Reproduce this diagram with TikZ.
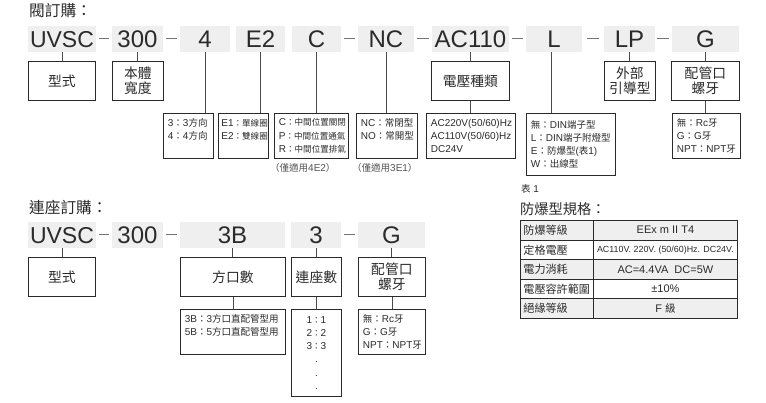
\documentclass[tikz,border=0pt]{standalone}
\usepackage{fontspec}
\setmainfont{Liberation Sans}
\newfontfamily\cjk[Scale=0.95]{Noto Sans CJK TC}
\newcommand{\zh}[1]{{\cjk #1}}
\newcommand{\zs}[1]{{\cjk\fontsize{9}{13.3}\selectfont #1}}
\definecolor{codegray}{HTML}{EFEFEF}
\definecolor{inkdark}{HTML}{2A2A2A}
\tikzset{
  codebox/.style={fill=codegray,inner sep=0pt,minimum height=26pt,text height=18pt,text depth=0pt,text=inkdark,font=\fontsize{24}{28}\selectfont},
  labelbox/.style={draw=inkdark,line width=0.8pt,anchor=north west,inner sep=0pt,minimum height=39pt,align=center,text=inkdark,font=\fontsize{14.5}{14.5}\selectfont},
  detailbox/.style={draw=inkdark,line width=0.8pt,anchor=north west,inner xsep=4.5pt,inner ysep=0pt,minimum height=45pt,align=left,text=inkdark,font=\fontsize{10}{13.3}\selectfont},
  notetext/.style={anchor=west,inner sep=0pt,text=inkdark!80,font=\fontsize{10}{11}\selectfont},
  titletext/.style={anchor=west,inner sep=0pt,text=inkdark,font=\fontsize{16.5}{18}\selectfont},
  cellbox/.style={draw=inkdark,line width=0.8pt,anchor=north west,inner sep=0pt,minimum height=19.6pt,text=inkdark,font=\fontsize{11}{12}\selectfont},
  headcell/.style={cellbox,align=left,text width=67pt,inner xsep=3pt,minimum width=73pt,font=\fontsize{11.7}{12}\selectfont},
  valuecell/.style={cellbox,minimum width=144pt},
  hyphenline/.style={draw=black!55,line width=1pt},
  stemline/.style={draw=inkdark!85,line width=0.8pt}
}
\begin{document}
\begin{tikzpicture}[x=1pt,y=-1pt]
  \useasboundingbox (0,0) rectangle (766,403);
  % valve order code
  \node[titletext] (vTitle) at (29,11) {\zh{閥訂購：}};
  \node[codebox,minimum width=68pt,font=\fontsize{23}{28}\selectfont] (vUVSC) at (62,39) {UVSC};
  \node[codebox,minimum width=51pt] (v300) at (137.5,39) {300};
  \node[codebox,minimum width=50pt] (vPort) at (205,39) {4};
  \node[codebox,minimum width=49pt] (vCoil) at (260.5,39) {E2};
  \node[codebox,minimum width=49pt] (vMid) at (316.5,39) {C};
  \node[codebox,minimum width=56pt] (vNorm) at (386,39) {NC};
  \node[codebox,minimum width=77pt] (vVolt) at (470.5,39) {AC110};
  \node[codebox,minimum width=56pt] (vConn) at (554,39) {L};
  \node[codebox,minimum width=51pt] (vLead) at (629.5,39) {LP};
  \node[codebox,minimum width=67pt] (vPipe) at (705.5,39) {G};
  \draw[hyphenline] ([xshift=3pt]vUVSC.east) -- ([xshift=-3pt]v300.west);
  \draw[hyphenline] ([xshift=3pt]v300.east) -- ([xshift=-3pt]vPort.west);
  \draw[hyphenline] ([xshift=3pt]vMid.east) -- ([xshift=-3pt]vNorm.west);
  \draw[hyphenline] ([xshift=3pt]vNorm.east) -- ([xshift=-3pt]vVolt.west);
  \draw[hyphenline] ([xshift=3pt]vVolt.east) -- ([xshift=-3pt]vConn.west);
  \draw[hyphenline] ([xshift=5pt]vConn.east) -- ([xshift=-5pt]vLead.west);
  \draw[hyphenline] ([xshift=2pt]vLead.east) -- ([xshift=-3pt]vPipe.west);
  \node[labelbox,minimum width=67pt] (lType) at (28,61) {\zh{型式}};
  \node[labelbox,minimum width=51pt] (lWidth) at (112,61) {\zh{本體}\\\zh{寬度}};
  \node[labelbox,minimum width=78pt] (lVolt) at (431,61) {\zh{電壓種類}};
  \node[labelbox,minimum width=51pt] (lLead) at (604,61) {\zh{外部}\\\zh{引導型}};
  \node[labelbox,minimum width=68pt] (lPipe) at (671,61) {\zh{配管口}\\\zh{螺牙}};
  \node[detailbox,text width=41pt] (dPort) at (163,113) {3\zh{：}3\zh{方向}\\4\zh{：}4\zh{方向}\\~};
  \node[detailbox,text width=44pt,inner xsep=3pt] (dCoil) at (218,113) {E1\zs{：單線圈}\\E2\zs{：雙線圈}\\~};
  \node[detailbox,text width=65pt] (dMid) at (274,113) {C\zs{：中間位置關閉}\\P\zs{：中間位置通氣}\\R\zs{：中間位置排氣}};
  \node[detailbox,text width=52pt] (dNorm) at (356,113) {NC\zh{：常閉型}\\NO\zh{：常開型}\\~};
  \node[detailbox,text width=80pt] (dVolt) at (426,113) {AC220V(50/60)Hz\\AC110V(50/60)Hz\\DC24V};
  \node[detailbox,text width=80pt,minimum height=62pt] (dConn) at (526,113) {\zh{無：}DIN\zh{端子型}\\L\zh{：}DIN\zh{端子附燈型}\\E\zh{：防爆型}(\zh{表}1)\\W\zh{：出線型}};
  \node[detailbox,text width=59pt] (dPipe) at (672,113) {\zh{無：}Rc\zh{牙}\\G\zh{：}G\zh{牙}\\NPT\zh{：}NPT\zh{牙}};
  \node[notetext] (nMid) at (270,168) {\zh{（僅適用}4E2\zh{）}};
  \node[notetext] (nNorm) at (352,168) {\zh{（僅適用}3E1\zh{）}};
  \draw[stemline] (vUVSC.south) -- (vUVSC.south |- lType.north);
  \draw[stemline] (v300.south) -- (v300.south |- lWidth.north);
  \draw[stemline] (vPort.south) -- (vPort.south |- dPort.north);
  \draw[stemline] (vCoil.south) -- (vCoil.south |- dCoil.north);
  \draw[stemline] (vMid.south) -- (vMid.south |- dMid.north);
  \draw[stemline] (vNorm.south) -- (vNorm.south |- dNorm.north);
  \draw[stemline] (vVolt.south) -- (vVolt.south |- lVolt.north);
  \draw[stemline] (lVolt.south) -- (lVolt.south |- dVolt.north);
  \draw[stemline] ([xshift=-3pt]vConn.south) -- ([xshift=-3pt]vConn.south |- dConn.north);
  \draw[stemline] (vLead.south) -- (vLead.south |- lLead.north);
  \draw[stemline] (vPipe.south) -- (vPipe.south |- lPipe.north);
  \draw[stemline] (lPipe.south) -- (lPipe.south |- dPipe.north);
  % base order code
  \node[titletext] (bTitle) at (29,207) {\zh{連座訂購：}};
  \node[codebox,minimum width=68pt,font=\fontsize{23}{28}\selectfont] (bUVSC) at (62,235) {UVSC};
  \node[codebox,minimum width=51pt] (b300) at (137.5,235) {300};
  \node[codebox,minimum width=105pt] (bPort) at (232.5,235) {3B};
  \node[codebox,minimum width=50pt] (bCount) at (316,235) {3};
  \node[codebox,minimum width=67pt] (bPipe) at (391.5,235) {G};
  \draw[hyphenline] ([xshift=3pt]bUVSC.east) -- ([xshift=-3pt]b300.west);
  \draw[hyphenline] ([xshift=3pt]b300.east) -- ([xshift=-3pt]bPort.west);
  \draw[hyphenline] ([xshift=3pt]bCount.east) -- ([xshift=-3pt]bPipe.west);
  \node[labelbox,minimum width=67pt] (mType) at (28,257) {\zh{型式}};
  \node[labelbox,minimum width=105pt] (mPort) at (180,257) {\zh{方口數}};
  \node[labelbox,minimum width=50pt] (mCount) at (291,257) {\zh{連座數}};
  \node[labelbox,minimum width=67pt] (mPipe) at (358,257) {\zh{配管口}\\\zh{螺牙}};
  \node[detailbox,text width=96pt] (ePort) at (180,309) {3B\zh{：}3\zh{方口直配管型用}\\5B\zh{：}5\zh{方口直配管型用}\\~};
  \node[detailbox,text width=41pt,minimum height=87pt,align=center] (eCount) at (291,309) {1\zs{：}1\\2\zs{：}2\\3\zs{：}3\\.\\.\\.};
  \node[detailbox,text width=58pt] (ePipe) at (358,309) {\zh{無：}Rc\zh{牙}\\G\zh{：}G\zh{牙}\\NPT\zh{：}NPT\zh{牙}};
  \draw[stemline] (bUVSC.south) -- (bUVSC.south |- mType.north);
  \draw[stemline] (bPort.south) -- (bPort.south |- mPort.north);
  \draw[stemline] (mPort.south) -- (mPort.south |- ePort.north);
  \draw[stemline] (bCount.south) -- (bCount.south |- mCount.north);
  \draw[stemline] (mCount.south) -- (mCount.south |- eCount.north);
  \draw[stemline] (bPipe.south) -- (bPipe.south |- mPipe.north);
  \draw[stemline] (mPipe.south) -- (mPipe.south |- ePipe.north);
  % table 1
  \node[anchor=west,inner sep=0pt,text=inkdark,font=\fontsize{10}{11}\selectfont] (tNote) at (521,189) {\zh{表} 1};
  \node[anchor=west,inner sep=0pt,text=inkdark,font=\fontsize{15}{16}\selectfont] (tTitle) at (520,209) {\zh{防爆型規格：}};
  \node[headcell,fill=codegray] (h1) at (520,220) {\zh{防爆等級}};
  \node[valuecell,fill=codegray] (c1) at (593,220) {EEx m II T4};
  \node[headcell] (h2) at (520,239.6) {\zh{定格電壓}};
  \node[valuecell,font=\fontsize{8.9}{10}\selectfont] (c2) at (593,239.6) {AC110V. 220V. (50/60)Hz. DC24V.};
  \node[headcell,fill=codegray] (h3) at (520,259.2) {\zh{電力消耗}};
  \node[valuecell,fill=codegray] (c3) at (593,259.2) {AC=4.4VA\ \ DC=5W};
  \node[headcell] (h4) at (520,278.8) {\zh{電壓容許範圍}};
  \node[valuecell] (c4) at (593,278.8) {±10\%};
  \node[headcell,fill=codegray] (h5) at (520,298.4) {\zh{絕緣等級}};
  \node[valuecell,fill=codegray] (c5) at (593,298.4) {F \zh{級}};
\end{tikzpicture}
\end{document}
